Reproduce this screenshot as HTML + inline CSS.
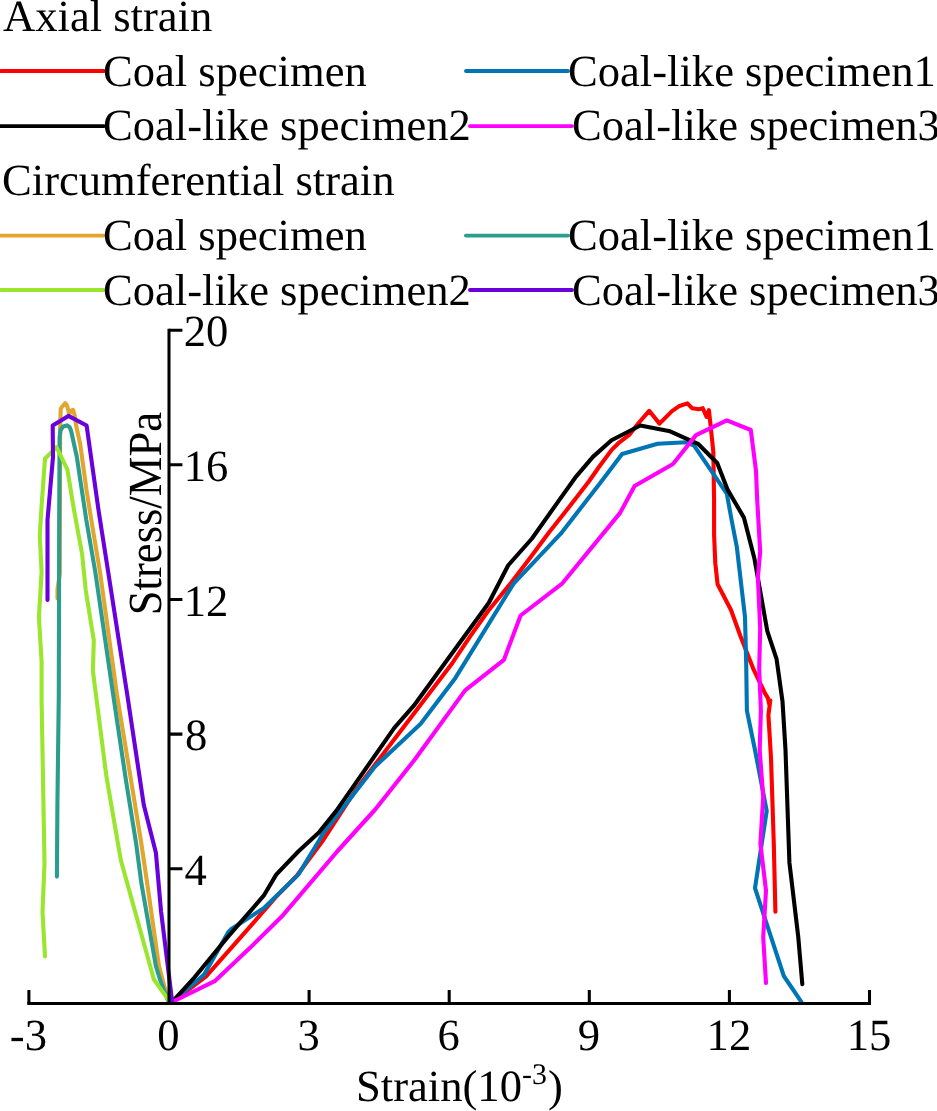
<!DOCTYPE html>
<html>
<head>
<meta charset="utf-8">
<title>Stress-strain curves</title>
<style>
  html, body { margin: 0; padding: 0; background: #ffffff; }
  body { width: 937px; height: 1111px; overflow: hidden; }
  svg { display: block; text-rendering: geometricPrecision; will-change: transform; }
  text { font-family: "Liberation Serif", serif; fill: #000; }
  .lg { font-size: 44.6px; }
  .tk { font-size: 44.6px; }
  .crv { fill: none; stroke-width: 4.1; stroke-linejoin: round; stroke-linecap: round; }
  .ax { fill: none; stroke: #000; stroke-width: 3.05; stroke-linecap: butt; }
</style>
</head>
<body>
<svg width="937" height="1111" viewBox="0 0 937 1111">
  <rect x="0" y="0" width="937" height="1111" fill="#ffffff"/>

  <!-- LEGEND -->
  <g id="legend" stroke-linecap="round">
    <text class="lg" x="3" y="31">Axial strain</text>
    <line x1="1" y1="71" x2="104" y2="71" stroke="#ff0000" stroke-width="3.95"/>
    <text class="lg" x="103" y="85.7">Coal specimen</text>
    <line x1="466" y1="71" x2="568" y2="71" stroke="#0075b5" stroke-width="3.95"/>
    <text class="lg" x="568" y="85.7">Coal-like specimen1</text>

    <line x1="1" y1="126.1" x2="104" y2="126.1" stroke="#000000" stroke-width="3.95"/>
    <text class="lg" x="103" y="140.2">Coal-like specimen2</text>
    <line x1="470" y1="126.1" x2="572" y2="126.1" stroke="#ff00ff" stroke-width="3.95"/>
    <text class="lg" x="572" y="140.2">Coal-like specimen3</text>

    <text class="lg" x="2" y="195.3">Circumferential strain</text>
    <line x1="1" y1="235.6" x2="104" y2="235.6" stroke="#e2a52e" stroke-width="3.95"/>
    <text class="lg" x="103" y="250.2">Coal specimen</text>
    <line x1="466" y1="235.6" x2="568" y2="235.6" stroke="#2a9d8f" stroke-width="3.95"/>
    <text class="lg" x="568" y="250.2">Coal-like specimen1</text>

    <line x1="1" y1="290" x2="104" y2="290" stroke="#9ae52d" stroke-width="3.95"/>
    <text class="lg" x="103" y="304.7">Coal-like specimen2</text>
    <line x1="470" y1="290" x2="572" y2="290" stroke="#6a00dc" stroke-width="3.95"/>
    <text class="lg" x="572" y="304.7">Coal-like specimen3</text>
  </g>

  <!-- CURVES -->
  <g id="curves">
    <path class="crv" id="c-red" stroke="#ff0000" d="M172.2 1002 L206.1 976.4 L250.3 926.4 L275.3 897.6 L296.6 876 L323.3 840 L355.5 790.3 L452.6 662.7 L470 636.6 L488.1 611 L511.5 582.3 L530 558 L549.5 531.7 L563 514.8 L578 495.6 L589 481.2 L599.5 466.3 L611.7 449.9 L619.4 442.3 L629.6 434.6 L638.6 423 L649.2 410.8 L659.5 423.6 L672 411.1 L678.8 406.3 L687.4 403.4 L692.2 408.2 L698.9 409.2 L702.8 408.2 L706.6 416.9 L708.9 410.2 L710.5 424.6 L713.3 451.5 L714.1 500 L714.1 535.1 L715.3 563.2 L717.6 584.3 L731 610 L740.3 635.8 L753.2 668.6 L764.9 693.2 L767.8 697.8 L769.6 705.5 L770.3 700.5 L768.4 715 L769.5 733 L771 758 L773.8 843.7 L775.4 911.6"/>
    <path class="crv" id="c-blue" stroke="#0075b5" d="M172.2 1002 L204.2 974.5 L228.2 932.2 L231 929.3 L250.3 916.8 L263.7 908.2 L298.3 874.6 L319.4 840 L322.2 834.7 L374.9 766.7 L420.7 723.7 L455.4 677.9 L513.6 583.6 L560.8 533.7 L600 483.2 L622.1 454 L657.6 443.8 L686.4 442.2 L694.1 445.7 L726.8 493.7 L731.6 520 L736.8 546.8 L745 617.1 L746.2 663.9 L746.9 710.7 L755 750 L766.7 810.9 L755 888.1 L783.8 976 L801.2 1001.7"/>
    <path class="crv" id="c-black" stroke="#000000" d="M172.2 1002 L194.6 977.3 L227.2 937.6 L263.7 895.7 L276.2 874.6 L298.3 851.5 L319.4 831.9 L336.1 811.1 L394.3 727.9 L413.8 705.7 L488.7 603 L508.1 565.5 L532 538.5 L559.2 500.1 L575.2 477.7 L592.9 456.9 L611.5 440.3 L640.3 425.5 L670.1 431.3 L698 443.8 L717.2 463 L727.7 489.9 L743.9 517.6 L754.4 558.5 L767.3 631.1 L776.6 659.2 L782.5 701.4 L785.5 750 L789.4 862.4 L798.3 937.3 L802.3 984.1"/>
    <path class="crv" id="c-magenta" stroke="#ff00ff" d="M172.2 1002 L214.7 981.2 L250.3 947.6 L283 915.2 L337.6 851 L375.2 809.5 L414.4 760 L465.1 690.4 L503.9 659.9 L520.6 615.5 L562.4 583.3 L620.1 512.9 L634.6 486 L673 464 L696 435.1 L726.8 420.3 L750.8 430 L756 470.7 L757.2 500 L760.2 551.5 L757.9 577.3 L760.2 628.8 L759.2 668.6 L760.9 710.7 L759.7 750 L763.2 796.8 L760.4 843.7 L766 890.5 L763.2 937.3 L766 983"/>
    <path class="crv" id="c-orange" stroke="#e2a52e" d="M168.5 1002 L159 966.2 L147.2 883.4 L141.2 842.6 L131 780 L117 695 L100 572 L91.3 520 L86.5 490 L80.2 444 L76 425 L74.6 415 L73 409.8 L71.6 410.5 L70.3 412.5 L69 413.5 L68 409 L66.8 405 L65.2 403.2 L63.6 405.3 L62.2 406.5 L60.7 409 L60.1 428.6 L59.8 574 L57.5 589 L57.5 598.5"/>
    <path class="crv" id="c-teal" stroke="#2a9d8f" d="M168.5 1002 L160.5 981 L155.9 966.2 L141.4 883.4 L136 842.6 L125.9 780 L113.2 695 L95.3 572 L86.3 520 L76.8 456.8 L71.2 431.2 L69.6 427 L66.8 425.4 L63.2 426.4 L60.6 430 L59.6 437.6 L59.2 520 L58.8 695 L57.4 805 L56.9 876.6"/>
    <path class="crv" id="c-green" stroke="#9ae52d" d="M168.5 1002 L168.3 999.6 L153.9 979.5 L120.8 860 L106.4 776.4 L96 695 L92.9 671 L93.8 640.4 L85.7 590 L82.1 554 L74 510 L67.4 469.6 L56.5 447.2 L45 458.7 L41.3 510 L39.8 536 L41.6 572 L38.9 617 L41.6 662 L41.6 700 L44.5 863 L42.5 912 L45 956.4"/>
    <path class="crv" id="c-purple" stroke="#6a00dc" d="M172.2 1002 L161.1 911.8 L155.9 852.7 L143.8 805 L127.3 695 L108.2 572 L98.5 510 L86.6 425.5 L68.4 415.9 L52.7 425.5 L53 457 L47.5 520 L47.5 600"/>
  </g>

  <!-- AXES -->
  <g id="axes">
    <path class="ax" d="M169 328.7 V1003.4"/>
    <path class="ax" d="M169 330.2 H182.4 M169 464.8 H182.4 M169 599.5 H182.4 M169 734.1 H182.4 M169 868.8 H182.4"/>
    <path class="ax" d="M27.3 1003.4 H871"/>
    <path class="ax" d="M28.9 1003.4 V990 M309.1 1003.4 V990 M449.2 1003.4 V990 M589.3 1003.4 V990 M729.4 1003.4 V990 M869.5 1003.4 V990"/>
  </g>

  <!-- TICK LABELS -->
  <g id="ticklabels">
    <text class="tk" x="183.8" y="346.2">20</text>
    <text class="tk" x="183.8" y="480.8">16</text>
    <text class="tk" x="183.8" y="615.5">12</text>
    <text class="tk" x="185" y="750.1">8</text>
    <text class="tk" x="184.6" y="884.8">4</text>

    <text class="tk" x="28.4" y="1050" text-anchor="middle">-3</text>
    <text class="tk" x="168.5" y="1050" text-anchor="middle">0</text>
    <text class="tk" x="308.6" y="1050" text-anchor="middle">3</text>
    <text class="tk" x="448.7" y="1050" text-anchor="middle">6</text>
    <text class="tk" x="588.8" y="1050" text-anchor="middle">9</text>
    <text class="tk" x="728.9" y="1050" text-anchor="middle">12</text>
    <text class="tk" x="869.0" y="1050" text-anchor="middle">15</text>
  </g>

  <!-- AXIS TITLES -->
  <g id="titles">
    <text class="tk" x="356" y="1101.2">Strain(10<tspan font-size="29.9" dy="-17.5">-3</tspan><tspan dy="17.5" dx="1.2">)</tspan></text>
    <text class="tk" transform="translate(161.3,615.2) rotate(-90) scale(1,1.065)">Stress/MPa</text>
  </g>

</svg>
</body>
</html>
